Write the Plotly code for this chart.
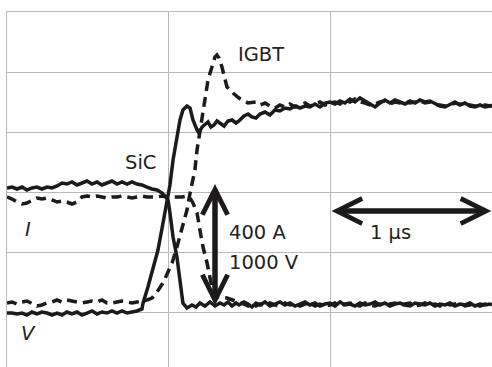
import plotly.graph_objects as go

# time in ns (1 division = 1000 ns = 1 µs), level in screen divisions
sic_i_t = [0, 31, 62, 93, 123, 154, 185, 216, 247, 278, 309, 340, 370, 401, 432, 463, 494, 525, 556, 586,
           617, 648, 679, 710, 741, 772, 802, 833, 864, 895, 926, 957, 981, 994, 1006, 1025, 1049, 1068, 1086,
           1111, 1142, 1167, 1191, 1222, 1253, 1284, 1315, 1340, 1364, 1389, 1414, 1432, 1463, 1488, 1512,
           1537, 1562, 1593, 1623, 1654, 1685, 1716, 1747, 1778, 1809, 1840, 1870, 1901, 1932, 1963, 1994,
           2025, 2056, 2086, 2117, 2148, 2179, 2210, 2241, 2272, 2302, 2333, 2364, 2395, 2426, 2457, 2488,
           2519, 2549, 2580, 2611, 2642, 2673, 2704, 2735, 2765, 2796, 2827, 2858, 2889, 2920, 2951, 2981, 2994]
sic_i_v = [3.067, 3.083, 3.05, 3.083, 3.033, 3.067, 3.083, 3.05, 3.083, 3.067, 3.1, 3.15, 3.133, 3.167, 3.117,
           3.15, 3.183, 3.133, 3.167, 3.117, 3.15, 3.183, 3.133, 3.167, 3.133, 3.167, 3.133, 3.117, 3.083, 3.05,
           3.033, 2.983, 2.917, 2.867, 2.65, 2.25, 1.917, 1.533, 1.15, 1.067, 1.117, 1.083, 1.15, 1.1, 1.167,
           1.1, 1.15, 1.117, 1.167, 1.1, 1.15, 1.117, 1.167, 1.133, 1.083, 1.15, 1.117, 1.167, 1.1, 1.133,
           1.167, 1.117, 1.15, 1.1, 1.133, 1.167, 1.117, 1.15, 1.1, 1.133, 1.15, 1.1, 1.167, 1.117, 1.133, 1.1,
           1.15, 1.117, 1.133, 1.167, 1.117, 1.15, 1.1, 1.133, 1.15, 1.117, 1.1, 1.15, 1.133, 1.117, 1.15, 1.1,
           1.133, 1.117, 1.15, 1.1, 1.133, 1.117, 1.15, 1.1, 1.133, 1.117, 1.133, 1.117]

sic_v_t = [0, 31, 62, 93, 123, 154, 185, 216, 247, 278, 309, 340, 370, 401, 432, 463, 494, 525, 556, 586,
           617, 648, 679, 710, 741, 772, 802, 833, 840, 870, 901, 932, 963, 988, 1006, 1025, 1049, 1068, 1086,
           1111, 1130, 1148, 1173, 1185, 1204, 1222, 1241, 1259, 1278, 1296, 1315, 1340, 1364, 1389, 1414,
           1432, 1463, 1488, 1512, 1537, 1562, 1593, 1623, 1654, 1685, 1716, 1747, 1778, 1809, 1840, 1870,
           1901, 1932, 1963, 1994, 2025, 2056, 2086, 2117, 2148, 2179, 2210, 2241, 2272, 2302, 2333, 2364,
           2395, 2426, 2457, 2488, 2519, 2549, 2580, 2611, 2642, 2673, 2704, 2735, 2765, 2796, 2827, 2858,
           2889, 2920, 2951, 2981, 2994]
sic_v_v = [0.983, 0.983, 0.967, 0.983, 0.95, 1.0, 0.967, 1.0, 0.983, 0.95, 0.983, 0.95, 1.0, 0.967, 1.0, 0.95,
           0.983, 1.017, 0.967, 1.0, 0.983, 1.017, 0.983, 1.017, 0.983, 1.0, 1.017, 1.05, 1.15, 1.417, 1.7,
           2.033, 2.483, 2.867, 3.117, 3.533, 3.867, 4.2, 4.367, 4.433, 4.4, 4.2, 4.033, 3.983, 4.083, 4.133,
           4.167, 4.083, 4.117, 4.183, 4.15, 4.1, 4.183, 4.2, 4.15, 4.183, 4.267, 4.3, 4.25, 4.233, 4.3, 4.333,
           4.283, 4.367, 4.35, 4.4, 4.383, 4.433, 4.4, 4.433, 4.417, 4.467, 4.417, 4.483, 4.5, 4.467, 4.517,
           4.483, 4.55, 4.5, 4.567, 4.517, 4.467, 4.417, 4.483, 4.533, 4.483, 4.533, 4.5, 4.467, 4.517, 4.483,
           4.533, 4.5, 4.517, 4.467, 4.433, 4.417, 4.467, 4.5, 4.45, 4.483, 4.433, 4.417, 4.45, 4.417, 4.433,
           4.433]

igbt_i_t = [0, 31, 62, 93, 123, 154, 185, 216, 247, 278, 309, 340, 370, 401, 432, 463, 494, 525, 556, 586,
            617, 648, 679, 710, 741, 772, 802, 833, 864, 895, 926, 957, 988, 1019, 1049, 1080, 1111, 1130,
            1148, 1173, 1191, 1210, 1235, 1253, 1272, 1296, 1315, 1358, 1395, 1432, 1463, 1488, 1512, 1537,
            1562, 1593, 1623, 1654, 1685, 1716, 1747, 1778, 1809, 1840, 1870, 1901, 1932, 1963, 1994, 2025,
            2056, 2086, 2117, 2148, 2179, 2210, 2241, 2272, 2302, 2333, 2364, 2395, 2426, 2457, 2488, 2519,
            2549, 2580, 2611, 2642, 2673, 2704, 2735, 2765, 2796, 2827, 2858, 2889, 2920, 2951, 2981, 2994]
igbt_i_v = [2.917, 2.883, 2.833, 2.8, 2.817, 2.867, 2.9, 2.883, 2.9, 2.867, 2.833, 2.85, 2.833, 2.8, 2.833,
            2.917, 2.933, 2.917, 2.933, 2.917, 2.9, 2.917, 2.917, 2.933, 2.917, 2.9, 2.917, 2.933, 2.917, 2.917,
            2.917, 2.933, 2.917, 2.917, 2.917, 2.917, 2.933, 2.9, 2.817, 2.65, 2.367, 2.083, 1.817, 1.533,
            1.317, 1.25, 1.25, 1.233, 1.2, 1.167, 1.133, 1.1, 1.15, 1.1, 1.133, 1.1, 1.15, 1.117, 1.1, 1.15,
            1.117, 1.133, 1.1, 1.133, 1.15, 1.1, 1.133, 1.1, 1.117, 1.15, 1.1, 1.133, 1.15, 1.117, 1.1, 1.15,
            1.117, 1.1, 1.133, 1.1, 1.133, 1.15, 1.1, 1.133, 1.15, 1.1, 1.117, 1.15, 1.117, 1.133, 1.1, 1.15,
            1.117, 1.133, 1.15, 1.1, 1.117, 1.133, 1.1, 1.133, 1.117, 1.1]

igbt_v_t = [0, 31, 62, 93, 123, 154, 185, 216, 247, 278, 309, 340, 370, 401, 432, 463, 494, 525, 556, 586,
            617, 648, 679, 710, 741, 772, 802, 833, 864, 895, 926, 963, 994, 1019, 1049, 1080, 1111, 1130,
            1148, 1160, 1173, 1191, 1222, 1241, 1265, 1284, 1296, 1309, 1327, 1358, 1395, 1432, 1488, 1537,
            1562, 1593, 1623, 1654, 1685, 1716, 1747, 1778, 1809, 1840, 1870, 1901, 1932, 1963, 1994, 2025,
            2056, 2086, 2117, 2148, 2179, 2210, 2241, 2272, 2302, 2333, 2364, 2395, 2426, 2457, 2488, 2519,
            2549, 2580, 2611, 2642, 2673, 2704, 2735, 2765, 2796, 2827, 2858, 2889, 2920, 2951, 2981, 2994]
igbt_v_v = [1.15, 1.167, 1.133, 1.167, 1.183, 1.133, 1.1, 1.117, 1.15, 1.167, 1.2, 1.167, 1.2, 1.183, 1.167,
            1.15, 1.167, 1.183, 1.167, 1.2, 1.15, 1.15, 1.167, 1.183, 1.167, 1.15, 1.167, 1.183, 1.2, 1.233,
            1.333, 1.483, 1.667, 1.817, 2.083, 2.417, 2.7, 2.983, 3.2, 3.367, 3.7, 4.033, 4.533, 4.867, 5.083,
            5.25, 5.283, 5.233, 5.083, 4.75, 4.65, 4.567, 4.483, 4.5, 4.45, 4.483, 4.433, 4.4, 4.45, 4.417,
            4.467, 4.417, 4.45, 4.483, 4.433, 4.467, 4.5, 4.45, 4.483, 4.5, 4.467, 4.533, 4.5, 4.55, 4.5, 4.483,
            4.45, 4.467, 4.5, 4.517, 4.467, 4.5, 4.483, 4.5, 4.483, 4.5, 4.517, 4.483, 4.5, 4.45, 4.45, 4.433,
            4.45, 4.483, 4.467, 4.45, 4.45, 4.433, 4.433, 4.45, 4.433, 4.45]

INK = "#1c1a1a"
GRID = "#b9b9b9"
FONT = "DejaVu Sans"

fig = go.Figure()
solid = dict(color=INK, width=3.5)
dashed = dict(color=INK, width=3.5, dash="10px,6px")
fig.add_trace(go.Scatter(x=sic_i_t, y=sic_i_v, mode="lines", line=solid, name="SiC I"))
fig.add_trace(go.Scatter(x=sic_v_t, y=sic_v_v, mode="lines", line=solid, name="SiC V"))
fig.add_trace(go.Scatter(x=igbt_i_t, y=igbt_i_v, mode="lines", line=dashed, name="IGBT I"))
fig.add_trace(go.Scatter(x=igbt_v_t, y=igbt_v_v, mode="lines", line=dashed, name="IGBT V"))

def label(x, y, text, xanchor="center", italic=False):
    fig.add_annotation(x=x, y=y, text=text, showarrow=False, xanchor=xanchor, yanchor="middle",
                       font=dict(family=FONT, size=19.5, color="#222222",
                                 style="italic" if italic else "normal"))

def double_arrow(x0, y0, x1, y1):
    fig.add_annotation(x=x1, y=y1, ax=x0, ay=y0, xref="x", yref="y", axref="x", ayref="y",
                       text="", showarrow=True, arrowside="end+start",
                       arrowhead=5, startarrowhead=5, arrowsize=0.9, startarrowsize=0.9,
                       arrowwidth=5.5, arrowcolor=INK, standoff=0, startstandoff=0)

label(1568, 5.3, "IGBT")
label(827, 3.5, "SiC")
label(1358, 2.317, "400 A", xanchor="left")
label(1358, 1.817, "1000 V", xanchor="left")
label(2370, 2.317, "1 µs")
label(130, 2.367, "I", italic=True)
label(130, 0.65, "V", italic=True)

double_arrow(1284, 1.083, 1284, 3.133)
double_arrow(1994, 2.683, 2990, 2.683)

fig.update_layout(
    width=492, height=367,
    margin=dict(l=7, r=0, t=12, b=0),
    paper_bgcolor="white", plot_bgcolor="white",
    showlegend=False,
    xaxis=dict(range=[0, 2994], dtick=1000, tick0=0, showgrid=True, gridcolor=GRID, gridwidth=1,
               zeroline=False, showticklabels=False, ticks="", side="top",
               showline=True, linecolor=GRID, linewidth=1),
    yaxis=dict(range=[0.0833, 6], dtick=1, tick0=0, showgrid=True, gridcolor=GRID, gridwidth=1,
               zeroline=False, showticklabels=False, ticks="",
               showline=True, linecolor=GRID, linewidth=1),
)

fig.write_html("out.html")
